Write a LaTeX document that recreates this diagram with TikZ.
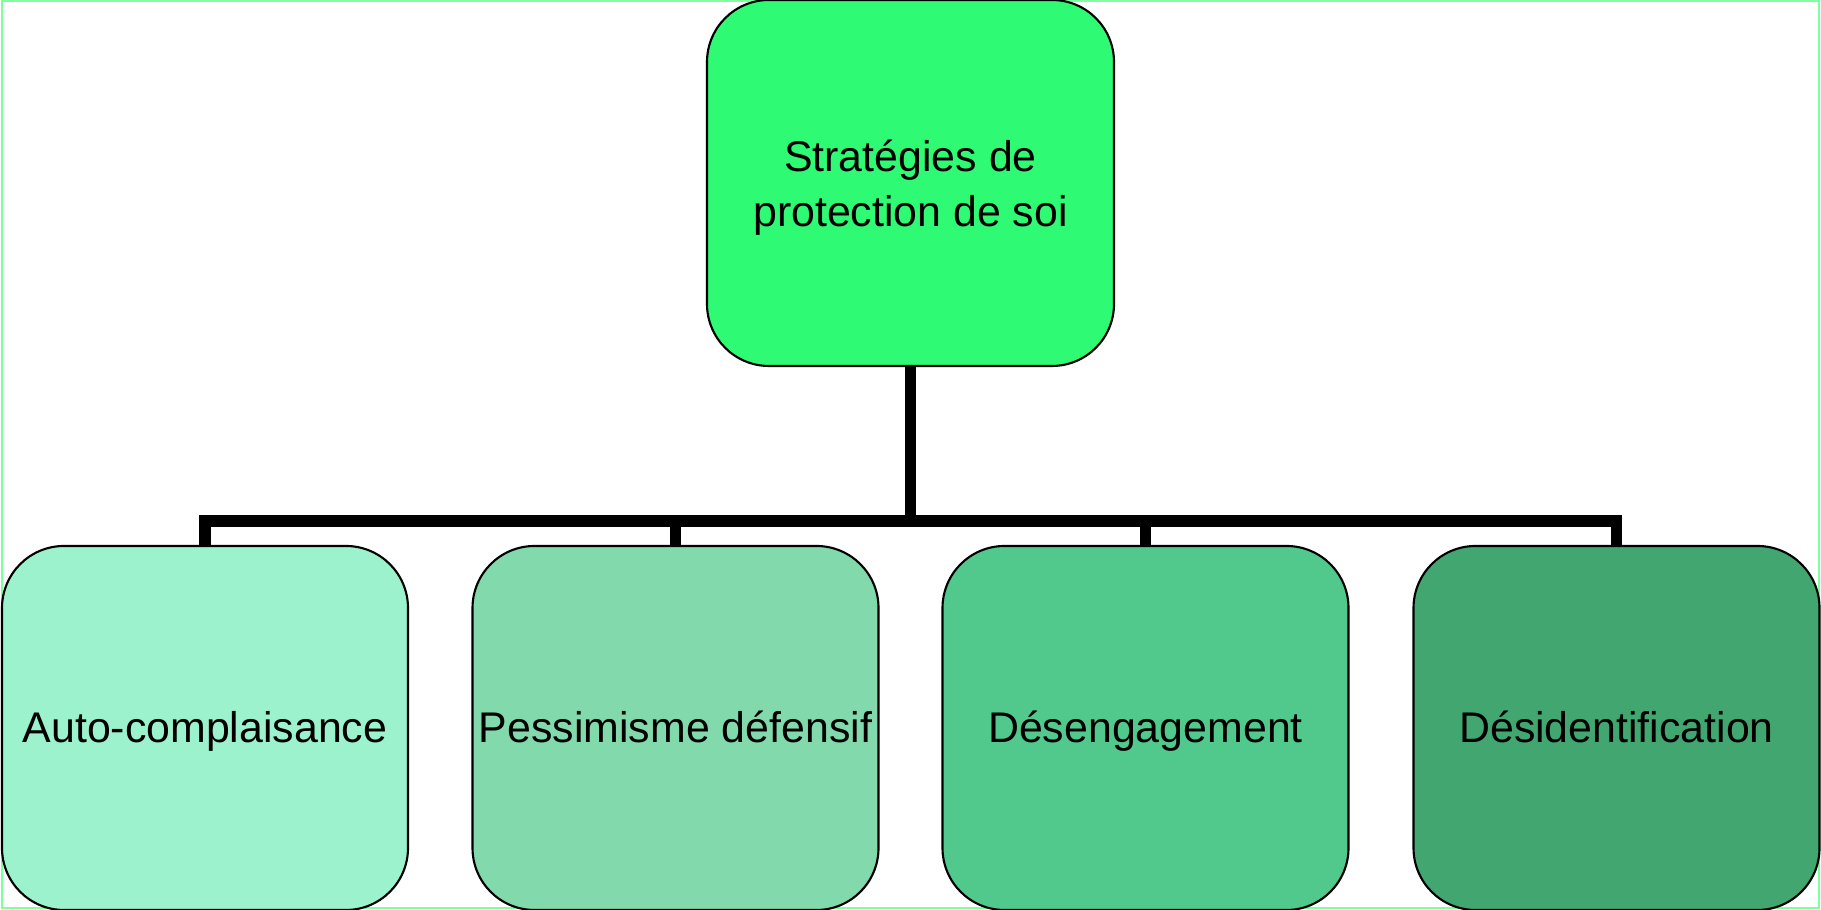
\documentclass[tikz,border=0pt]{standalone}
\usepackage{fontspec}
\setmainfont{Liberation Sans}
\usepackage{tikz}
\usepackage{color}

\begin{document}
\begin{tikzpicture}
\definecolor{cframe}{rgb}{0.5,1.0,0.63}
\definecolor{cfroot}{rgb}{0.18,0.98,0.45}
\definecolor{cfc1}{rgb}{0.61,0.95,0.8}
\definecolor{cfc2}{rgb}{0.51,0.85,0.67}
\definecolor{cfc3}{rgb}{0.32,0.79,0.55}
\definecolor{cfc4}{rgb}{0.26,0.65,0.44}
\tikzset{box/.style={draw=black,line width=0.6pt,rounded corners=0.62cm,minimum width=4.06cm,minimum height=3.64cm,inner xsep=0pt,align=center,font=\fontsize{12.2pt}{15.5pt}\selectfont},
  leaf/.style={box,text height=10pt,text depth=2pt},
  link/.style={line width=3.4pt,draw=black}}
%
\useasboundingbox (0,0) rectangle (18.21,9.10);
\draw[cframe,line width=0.7pt] (0.02,0.02) rectangle (18.19,9.09);
%
\node[box,fill=cfroot,minimum width=4.07cm,minimum height=3.66cm,text depth=0pt] (root) at (9.105,7.27) {Stratégies de\\protection de soi};
\node[leaf,fill=cfc1] (c1) at (2.05,1.82) {Auto-complaisance};
\node[leaf,fill=cfc2] (c2) at (6.755,1.82) {Pessimisme défensif};
\node[leaf,fill=cfc3] (c3) at (11.455,1.82) {Désengagement};
\node[leaf,fill=cfc4] (c4) at (16.165,1.82) {Désidentification};
%
\coordinate (hub) at (9.105,3.89);
\draw[link] (root.south) -- (hub);
\draw[link] (hub) -| (c1.north);
\draw[link] (hub) -| (c2.north);
\draw[link] (hub) -| (c3.north);
\draw[link] (hub) -| (c4.north);
%
\end{tikzpicture}
\end{document}
